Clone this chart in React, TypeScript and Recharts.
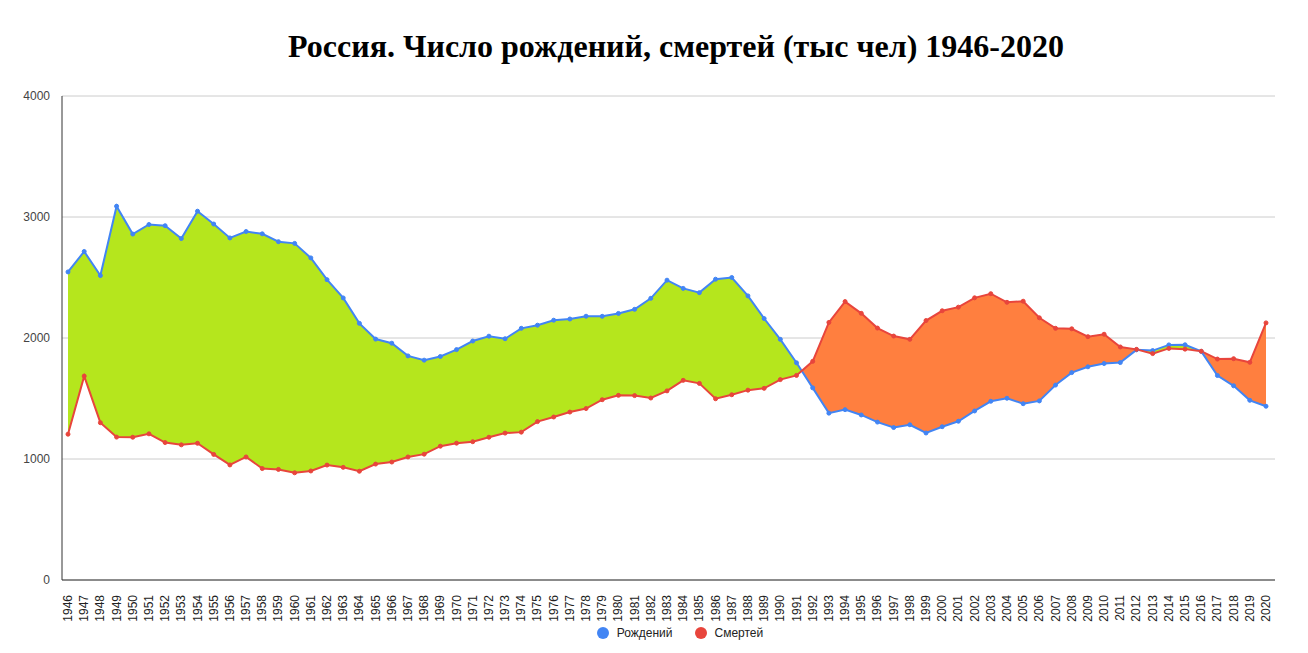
import { ComposedChart, Area, Line, XAxis, YAxis, CartesianGrid } from "recharts";

const years = [
  1946, 1947, 1948, 1949, 1950, 1951, 1952, 1953, 1954, 1955, 1956, 1957, 1958, 1959, 1960,
  1961, 1962, 1963, 1964, 1965, 1966, 1967, 1968, 1969, 1970, 1971, 1972, 1973, 1974, 1975,
  1976, 1977, 1978, 1979, 1980, 1981, 1982, 1983, 1984, 1985, 1986, 1987, 1988, 1989, 1990,
  1991, 1992, 1993, 1994, 1995, 1996, 1997, 1998, 1999, 2000, 2001, 2002, 2003, 2004, 2005,
  2006, 2007, 2008, 2009, 2010, 2011, 2012, 2013, 2014, 2015, 2016, 2017, 2018, 2019, 2020,
];

// Рождений, тыс
const births = [
  2546, 2715, 2516, 3089, 2859, 2938, 2928, 2822, 3048, 2942, 2827, 2880, 2861, 2796, 2782,
  2662, 2482, 2331, 2121, 1991, 1957, 1852, 1817, 1847, 1904, 1975, 2015, 1994, 2080, 2106,
  2147, 2157, 2180, 2179, 2203, 2237, 2328, 2478, 2410, 2375, 2486, 2500, 2348, 2161, 1989,
  1795, 1588, 1379, 1408, 1364, 1305, 1260, 1283, 1215, 1267, 1312, 1397, 1477, 1502, 1457,
  1480, 1611, 1714, 1762, 1789, 1797, 1902, 1896, 1943, 1944, 1889, 1690, 1605, 1485, 1436,
];

// Смертей, тыс
const deaths = [
  1205, 1685, 1300, 1181, 1180, 1208, 1136, 1117, 1130, 1038, 951, 1017, 921, 914, 886,
  901, 950, 931, 899, 958, 975, 1017, 1040, 1106, 1131, 1143, 1180, 1214, 1222, 1309,
  1347, 1388, 1417, 1490, 1526, 1524, 1504, 1563, 1650, 1625, 1498, 1531, 1569, 1584, 1656,
  1691, 1807, 2129, 2301, 2204, 2082, 2016, 1989, 2144, 2225, 2255, 2332, 2366, 2295, 2304,
  2167, 2080, 2076, 2011, 2031, 1926, 1906, 1871, 1914, 1908, 1891, 1826, 1829, 1799, 2125,
];

const yTicks = [0, 1000, 2000, 3000, 4000];

const BLUE = "#4285f4";
const RED = "#e8453c";
const GREEN = "#b5e61d";
const ORANGE = "#ff7f3f";

const data = years.map((y, i) => ({
  year: String(y),
  births: births[i],
  deaths: deaths[i],
  range: [deaths[i], births[i]],
}));

// green where births are on top, orange where deaths are; switch at the crossings
function splitStops() {
  const n = years.length - 1;
  const stops: { offset: number; color: string }[] = [];
  let color = births[0] >= deaths[0] ? GREEN : ORANGE;
  stops.push({ offset: 0, color });
  for (let i = 0; i < n; i++) {
    const a = births[i] - deaths[i];
    const b = births[i + 1] - deaths[i + 1];
    if ((a >= 0) !== (b >= 0)) {
      const t = a / (a - b);
      const off = (i + t) / n;
      stops.push({ offset: off, color });
      color = b >= 0 ? GREEN : ORANGE;
      stops.push({ offset: off, color });
    }
  }
  stops.push({ offset: 1, color });
  return stops;
}

function YearTick(props: any) {
  const { x, y, payload } = props;
  return (
    <text
      x={0}
      y={0}
      transform={`translate(${x + 4},${y + 7}) rotate(-90)`}
      textAnchor="end"
      fontSize={12}
      fill="#222"
      fontFamily="Arial, 'Liberation Sans', sans-serif"
    >
      {payload.value}
    </text>
  );
}

export default function App() {
  const stops = splitStops();
  return (
    <div
      style={{
        position: "absolute",
        left: 0,
        top: 0,
        width: 1308,
        height: 653,
        background: "#fff",
        fontFamily: "Arial, 'Liberation Sans', sans-serif",
      }}
    >
      <div
        style={{
          position: "absolute",
          top: 27,
          left: 0,
          width: 1352,
          textAlign: "center",
          fontFamily: "'Liberation Serif', 'Times New Roman', serif",
          fontWeight: "bold",
          fontSize: 32,
          lineHeight: "38px",
          color: "#000",
        }}
      >
        Россия. Число рождений, смертей (тыс чел) 1946-2020
      </div>
      <ComposedChart
        width={1308}
        height={653}
        data={data}
        margin={{ top: 96, right: 33, bottom: 0, left: 0 }}
      >
        <defs>
          <linearGradient id="split" x1="0" y1="0" x2="1" y2="0">
            {stops.map((s, i) => (
              <stop key={i} offset={s.offset} stopColor={s.color} stopOpacity={1} />
            ))}
          </linearGradient>
        </defs>
        <CartesianGrid vertical={false} stroke="#cccccc" />
        <XAxis
          dataKey="year"
          scale="point"
          padding={{ left: 6, right: 9 }}
          interval={0}
          height={73}
          tickLine={false}
          axisLine={{ stroke: "#333" }}
          tick={<YearTick />}
        />
        <YAxis
          domain={[0, 4000]}
          ticks={yTicks}
          width={62}
          tickLine={false}
          axisLine={{ stroke: "#333" }}
          tick={{ fontSize: 12, fill: "#444" }}
          tickMargin={6}
        />
        <Area
          type="linear"
          dataKey="range"
          stroke="none"
          fill="url(#split)"
          fillOpacity={1}
          isAnimationActive={false}
          activeDot={false}
        />
        <Line
          type="linear"
          dataKey="births"
          stroke={BLUE}
          strokeWidth={2}
          dot={{ r: 2, fill: BLUE, stroke: BLUE, strokeWidth: 1 }}
          isAnimationActive={false}
        />
        <Line
          type="linear"
          dataKey="deaths"
          stroke={RED}
          strokeWidth={2}
          dot={{ r: 2, fill: RED, stroke: RED, strokeWidth: 1 }}
          isAnimationActive={false}
        />
      </ComposedChart>
      <div
        style={{
          position: "absolute",
          top: 626,
          left: 0,
          width: 1308,
          display: "flex",
          justifyContent: "center",
          gap: 22,
          fontSize: 12,
          color: "#222",
          paddingLeft: 52,
          boxSizing: "border-box",
        }}
      >
        {[
          { name: "Рождений", color: BLUE },
          { name: "Смертей", color: RED },
        ].map((s) => (
          <div key={s.name} style={{ display: "flex", alignItems: "center", gap: 8 }}>
            <span
              style={{
                width: 12,
                height: 12,
                borderRadius: 6,
                background: s.color,
                display: "inline-block",
              }}
            />
            <span>{s.name}</span>
          </div>
        ))}
      </div>
    </div>
  );
}
